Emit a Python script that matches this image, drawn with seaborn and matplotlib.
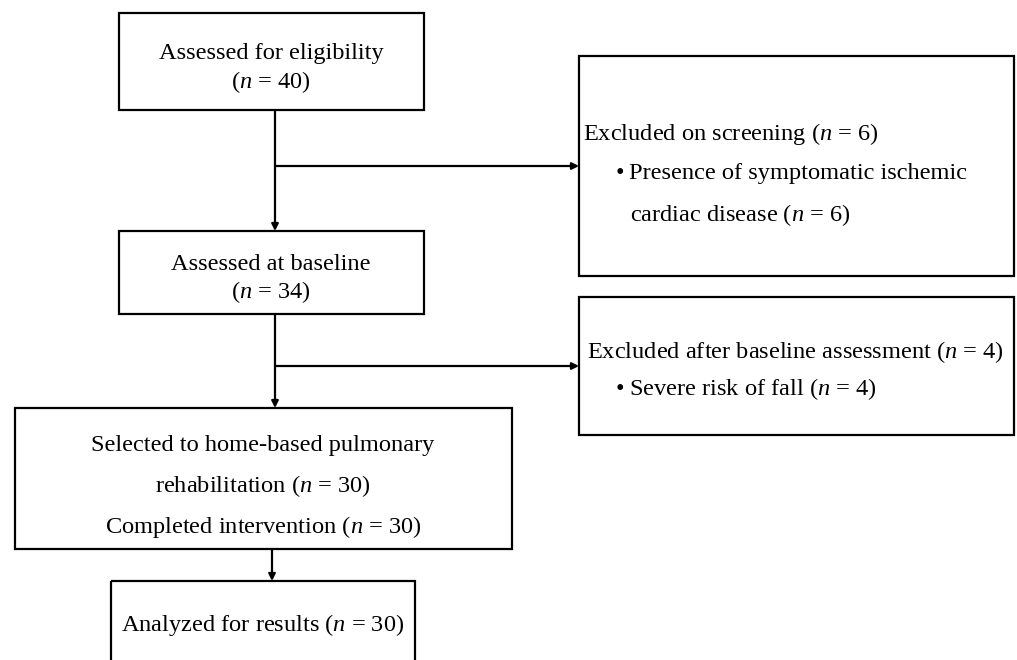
import matplotlib
matplotlib.use("Agg")
import matplotlib.pyplot as plt
from matplotlib.patches import Rectangle
import seaborn as sns

# ---- data ----
main_steps = ["Assessed for eligibility", "Assessed at baseline",
              "Selected to home-based pulmonary rehabilitation",
              "Analyzed for results"]
main_counts = [40, 34, 30, 30]
completed_count = 30
excl_titles = ["Excluded on screening", "Excluded after baseline assessment"]
excl_counts = [6, 4]
excl_reasons = ["Presence of symptomatic ischemic cardiac disease", "Severe risk of fall"]
excl_reason_counts = [6, 4]

sns.set_theme(style="white")
plt.rcParams['font.family'] = ['Liberation Serif', 'DejaVu Serif']
plt.rcParams['text.color'] = 'black'
plt.rcParams['mathtext.fontset'] = 'custom'
plt.rcParams['mathtext.rm'] = 'Liberation Serif'
plt.rcParams['mathtext.it'] = 'Liberation Serif:italic'

W, H = 1017, 660
fig = plt.figure(figsize=(W / 100, H / 100), dpi=100)
ax = fig.add_axes([0, 0, 1, 1])
ax.set_xlim(0, W)
ax.set_ylim(H, 0)
ax.axis("off")

LW = 1.6
FS = 17.6
DY = 2

def box(x0, y0, x1, y1):
    ax.add_patch(Rectangle((x0, y0), x1 - x0, y1 - y0, fill=False,
                           edgecolor="black", lw=LW, zorder=2))

def arrow(x0, y0, x1, y1):
    ax.annotate("", xy=(x1, y1), xytext=(x0, y0),
                arrowprops=dict(arrowstyle="-|>", color="black", lw=LW,
                                mutation_scale=10, shrinkA=0, shrinkB=0))

def nlab(k):
    return r"($\it{n}$ = %d)" % k

def txt(x, y, s, ha="center"):
    ax.text(x, y + DY, s, ha=ha, va="center", fontsize=FS, color="black")

# boxes
box(119, 13, 424, 110)
box(579, 56, 1014, 276)
box(119, 231, 424, 314)
box(579, 297, 1014, 435)
box(15, 408, 512, 549)
box(111, 581, 415, 700)

# connectors
ax.plot([275, 275], [110, 166], color="black", lw=LW)
arrow(275, 166, 275, 231)
arrow(275, 166, 579, 166)
ax.plot([275, 275], [314, 366], color="black", lw=LW)
arrow(275, 366, 275, 408)
arrow(275, 366, 579, 366)
arrow(272, 549, 272, 581)

# text
txt(271, 52, main_steps[0])
txt(271, 80, nlab(main_counts[0]))
txt(271, 262, main_steps[1])
txt(271, 290, nlab(main_counts[1]))

sel = main_steps[2].split(" ")
txt(263, 443, " ".join(sel[:4]))
txt(263, 484, sel[4] + " " + nlab(main_counts[2]))
txt(263, 525, "Completed intervention " + nlab(completed_count))
txt(263, 623, main_steps[3] + " " + nlab(main_counts[3]))

r0 = excl_reasons[0].split(" ")
txt(583, 132, excl_titles[0] + " " + nlab(excl_counts[0]), ha="left")
txt(616, 171, "\u2022", ha="left")
txt(629, 171, " ".join(r0[:4]), ha="left")
txt(630, 213, " ".join(r0[4:]) + " " + nlab(excl_reason_counts[0]), ha="left")

txt(587, 350, excl_titles[1] + " " + nlab(excl_counts[1]), ha="left")
txt(616, 387, "\u2022", ha="left")
txt(629, 387, excl_reasons[1] + " " + nlab(excl_reason_counts[1]), ha="left")

fig.savefig("out.png", dpi=100, facecolor="white")
